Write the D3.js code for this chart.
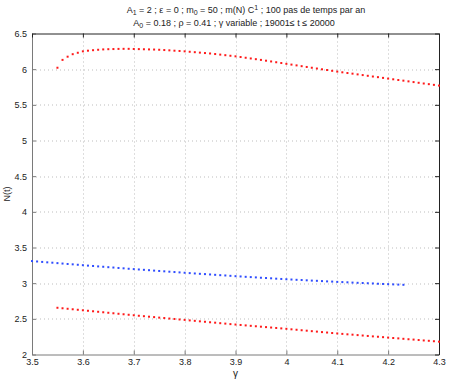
<!DOCTYPE html>
<html>
<head>
<meta charset="utf-8">
<script src="https://cdn.jsdelivr.net/npm/d3@7"></script>
<style>
  body { margin: 0; background: #fff; }
  text { font-family: "Liberation Sans", Arial, sans-serif; }
</style>
</head>
<body>
<div class="canvas"></div>
<script>
// gamma grid of the two red series
const gammaRed = [3.55, 3.56, 3.57, 3.58, 3.59, 3.60, 3.61, 3.62, 3.63, 3.64,
  3.65, 3.66, 3.67, 3.68, 3.69, 3.70, 3.71, 3.72, 3.73, 3.74, 3.75, 3.76, 3.77,
  3.78, 3.79, 3.80, 3.81, 3.82, 3.83, 3.84, 3.85, 3.86, 3.87, 3.88, 3.89, 3.90,
  3.91, 3.92, 3.93, 3.94, 3.95, 3.96, 3.97, 3.98, 3.99, 4.00, 4.01, 4.02, 4.03,
  4.04, 4.05, 4.06, 4.07, 4.08, 4.09, 4.10, 4.11, 4.12, 4.13, 4.14, 4.15, 4.16,
  4.17, 4.18, 4.19, 4.20, 4.21, 4.22, 4.23, 4.24, 4.25, 4.26, 4.27, 4.28, 4.29, 4.30];

const upperRed = [6.02, 6.13, 6.175, 6.21, 6.23, 6.25, 6.259, 6.266, 6.272, 6.277,
  6.28, 6.282, 6.284, 6.285, 6.285, 6.283, 6.281, 6.279, 6.277, 6.275, 6.272, 6.268, 6.264,
  6.259, 6.255, 6.25, 6.244, 6.238, 6.232, 6.226, 6.22, 6.212, 6.204, 6.196, 6.188, 6.18,
  6.17, 6.16, 6.15, 6.14, 6.13, 6.119, 6.108, 6.097, 6.086, 6.075, 6.064, 6.053, 6.042,
  6.031, 6.02, 6.009, 5.998, 5.988, 5.977, 5.966, 5.956, 5.946, 5.937, 5.927, 5.917, 5.907,
  5.897, 5.888, 5.878, 5.868, 5.858, 5.848, 5.839, 5.829, 5.819, 5.809, 5.799, 5.79, 5.78, 5.77];

const lowerRed = [2.655, 2.648, 2.641, 2.634, 2.627, 2.620, 2.613, 2.606, 2.599, 2.592,
  2.585, 2.578, 2.571, 2.564, 2.557, 2.550, 2.543, 2.537, 2.530, 2.524, 2.517, 2.511, 2.504,
  2.498, 2.491, 2.485, 2.478, 2.472, 2.465, 2.459, 2.452, 2.446, 2.439, 2.433, 2.426, 2.420,
  2.414, 2.408, 2.402, 2.396, 2.390, 2.384, 2.378, 2.372, 2.366, 2.360, 2.353, 2.347, 2.340,
  2.334, 2.327, 2.321, 2.314, 2.308, 2.301, 2.295, 2.289, 2.283, 2.278, 2.272, 2.266, 2.260,
  2.254, 2.249, 2.243, 2.237, 2.231, 2.226, 2.220, 2.214, 2.209, 2.203, 2.197, 2.192, 2.186, 2.180];

// gamma grid of the blue series
const gammaBlue = [3.50, 3.51, 3.52, 3.53, 3.54, 3.55, 3.56, 3.57, 3.58, 3.59,
  3.60, 3.61, 3.62, 3.63, 3.64, 3.65, 3.66, 3.67, 3.68, 3.69, 3.70, 3.71, 3.72, 3.73,
  3.74, 3.75, 3.76, 3.77, 3.78, 3.79, 3.80, 3.81, 3.82, 3.83, 3.84, 3.85, 3.86, 3.87,
  3.88, 3.89, 3.90, 3.91, 3.92, 3.93, 3.94, 3.95, 3.96, 3.97, 3.98, 3.99, 4.00, 4.01,
  4.02, 4.03, 4.04, 4.05, 4.06, 4.07, 4.08, 4.09, 4.10, 4.11, 4.12, 4.13, 4.14, 4.15,
  4.16, 4.17, 4.18, 4.19, 4.20, 4.21, 4.22, 4.23];

const blue = [3.310, 3.304, 3.298, 3.292, 3.287, 3.281, 3.275, 3.269, 3.264, 3.258,
  3.252, 3.246, 3.241, 3.235, 3.230, 3.224, 3.219, 3.213, 3.208, 3.202, 3.197, 3.192, 3.187, 3.182,
  3.176, 3.171, 3.166, 3.161, 3.156, 3.151, 3.146, 3.141, 3.136, 3.131, 3.127, 3.122, 3.117, 3.112,
  3.108, 3.103, 3.098, 3.094, 3.089, 3.085, 3.081, 3.076, 3.072, 3.068, 3.063, 3.059, 3.055, 3.051,
  3.047, 3.044, 3.040, 3.036, 3.033, 3.029, 3.025, 3.022, 3.018, 3.015, 3.012, 3.008, 3.005, 3.002,
  2.999, 2.996, 2.992, 2.989, 2.986, 2.983, 2.980, 2.977];

const xTicks = [3.5, 3.6, 3.7, 3.8, 3.9, 4, 4.1, 4.2, 4.3];
const yTicks = [2, 2.5, 3, 3.5, 4, 4.5, 5, 5.5, 6, 6.5];

const margin = { t: 33.5, r: 10, b: 27.5, l: 32 };
const svgWidth = 449;
const svgHeight = 382;
const gWidth = svgWidth - margin.l - margin.r;
const gHeight = svgHeight - margin.b - margin.t;

const svg = d3
  .select(".canvas")
  .append("svg")
  .attr("width", svgWidth)
  .attr("height", svgHeight);

const g = svg
  .append("g")
  .attr("transform", `translate(${margin.l}, ${margin.t})`);

const x = d3.scaleLinear().domain([3.5, 4.3]).range([0, gWidth]);
const y = d3.scaleLinear().domain([2, 6.5]).range([gHeight, 0]);

// dotted grid
const grid = g.append("g").attr("stroke", "#bdbdbd").attr("stroke-width", 1)
  .attr("stroke-dasharray", "1,3");
grid.selectAll(".gx").data(xTicks.slice(1, -1)).enter().append("line")
  .attr("x1", d => Math.round(x(d)) + 0.5).attr("x2", d => Math.round(x(d)) + 0.5)
  .attr("y1", 0).attr("y2", gHeight);
grid.selectAll(".gy").data(yTicks.slice(1, -1)).enter().append("line")
  .attr("y1", d => Math.round(y(d)) + 0.5).attr("y2", d => Math.round(y(d)) + 0.5)
  .attr("x1", 0).attr("x2", gWidth);

// axes (MATLAB style: inward ticks, plain number labels)
const fmt = d => String(d);
const xAxis = d3.axisBottom(x).tickValues(xTicks).tickFormat(fmt)
  .tickSizeInner(-4).tickSizeOuter(0).tickPadding(4);
const yAxis = d3.axisLeft(y).tickValues(yTicks).tickFormat(fmt)
  .tickSizeInner(-4).tickSizeOuter(0).tickPadding(5);
const xTop = d3.axisTop(x).tickValues(xTicks).tickSizeInner(-4).tickSizeOuter(0).tickFormat("");
const yRight = d3.axisRight(y).tickValues(yTicks).tickSizeInner(-4).tickSizeOuter(0).tickFormat("");

const xAxisGroup = g.append("g").attr("transform", `translate(0, ${gHeight})`).call(xAxis);
const yAxisGroup = g.append("g").call(yAxis);
g.append("g").call(xTop).selectAll("path,line").attr("stroke", "#222");
g.append("g").attr("transform", `translate(${gWidth}, 0)`).call(yRight)
  .selectAll("path,line").attr("stroke", "#222");

[xAxisGroup, yAxisGroup].forEach(a => {
  a.selectAll("path,line").attr("stroke", "#7a7a7a");
  a.selectAll("text").attr("font-size", 9).attr("fill", "#222")
    .style("font-family", "'Liberation Sans', Arial, sans-serif");
});

// series
const series = [
  { xs: gammaRed, ys: upperRed, color: "#ff1a1a" },
  { xs: gammaBlue, ys: blue, color: "#2f4dff" },
  { xs: gammaRed, ys: lowerRed, color: "#ff1a1a" }
];

series.forEach(s => {
  g.append("g").selectAll("rect")
    .data(s.xs.map((v, i) => [v, s.ys[i]]))
    .enter()
    .append("rect")
    .attr("x", d => x(d[0]) - 1)
    .attr("y", d => y(d[1]) - 1)
    .attr("width", 2)
    .attr("height", 2)
    .attr("fill", s.color);
});

// labels
svg.append("text")
  .attr("x", margin.l + gWidth / 2).attr("y", 377)
  .attr("text-anchor", "middle").attr("font-size", 10).attr("fill", "#222")
  .text("γ");

svg.append("text")
  .attr("transform", `translate(10, ${margin.t + gHeight / 2}) rotate(-90)`)
  .attr("text-anchor", "middle").attr("font-size", 9).attr("fill", "#222")
  .text("N(t)");

const title = svg.append("g").attr("font-size", 9).attr("fill", "#222")
  .attr("text-anchor", "middle");

const t1 = title.append("text").attr("x", 246).attr("y", 13);
t1.append("tspan").text("A");
t1.append("tspan").attr("font-size", 7).attr("dy", 2).text("1");
t1.append("tspan").attr("dy", -2).text(" = 2 ; ε = 0 ; m");
t1.append("tspan").attr("font-size", 7).attr("dy", 2).text("0");
t1.append("tspan").attr("dy", -2).text(" = 50 ; m(N) C");
t1.append("tspan").attr("font-size", 7).attr("dy", -3).text("1");
t1.append("tspan").attr("dy", 3).text(" ; 100 pas de temps par an");

const t2 = title.append("text").attr("x", 234).attr("y", 26);
t2.append("tspan").text("A");
t2.append("tspan").attr("font-size", 7).attr("dy", 2).text("0");
t2.append("tspan").attr("dy", -2).text(" = 0.18 ; ρ = 0.41 ; γ variable ; 19001≤ t ≤ 20000");
</script>
</body>
</html>
